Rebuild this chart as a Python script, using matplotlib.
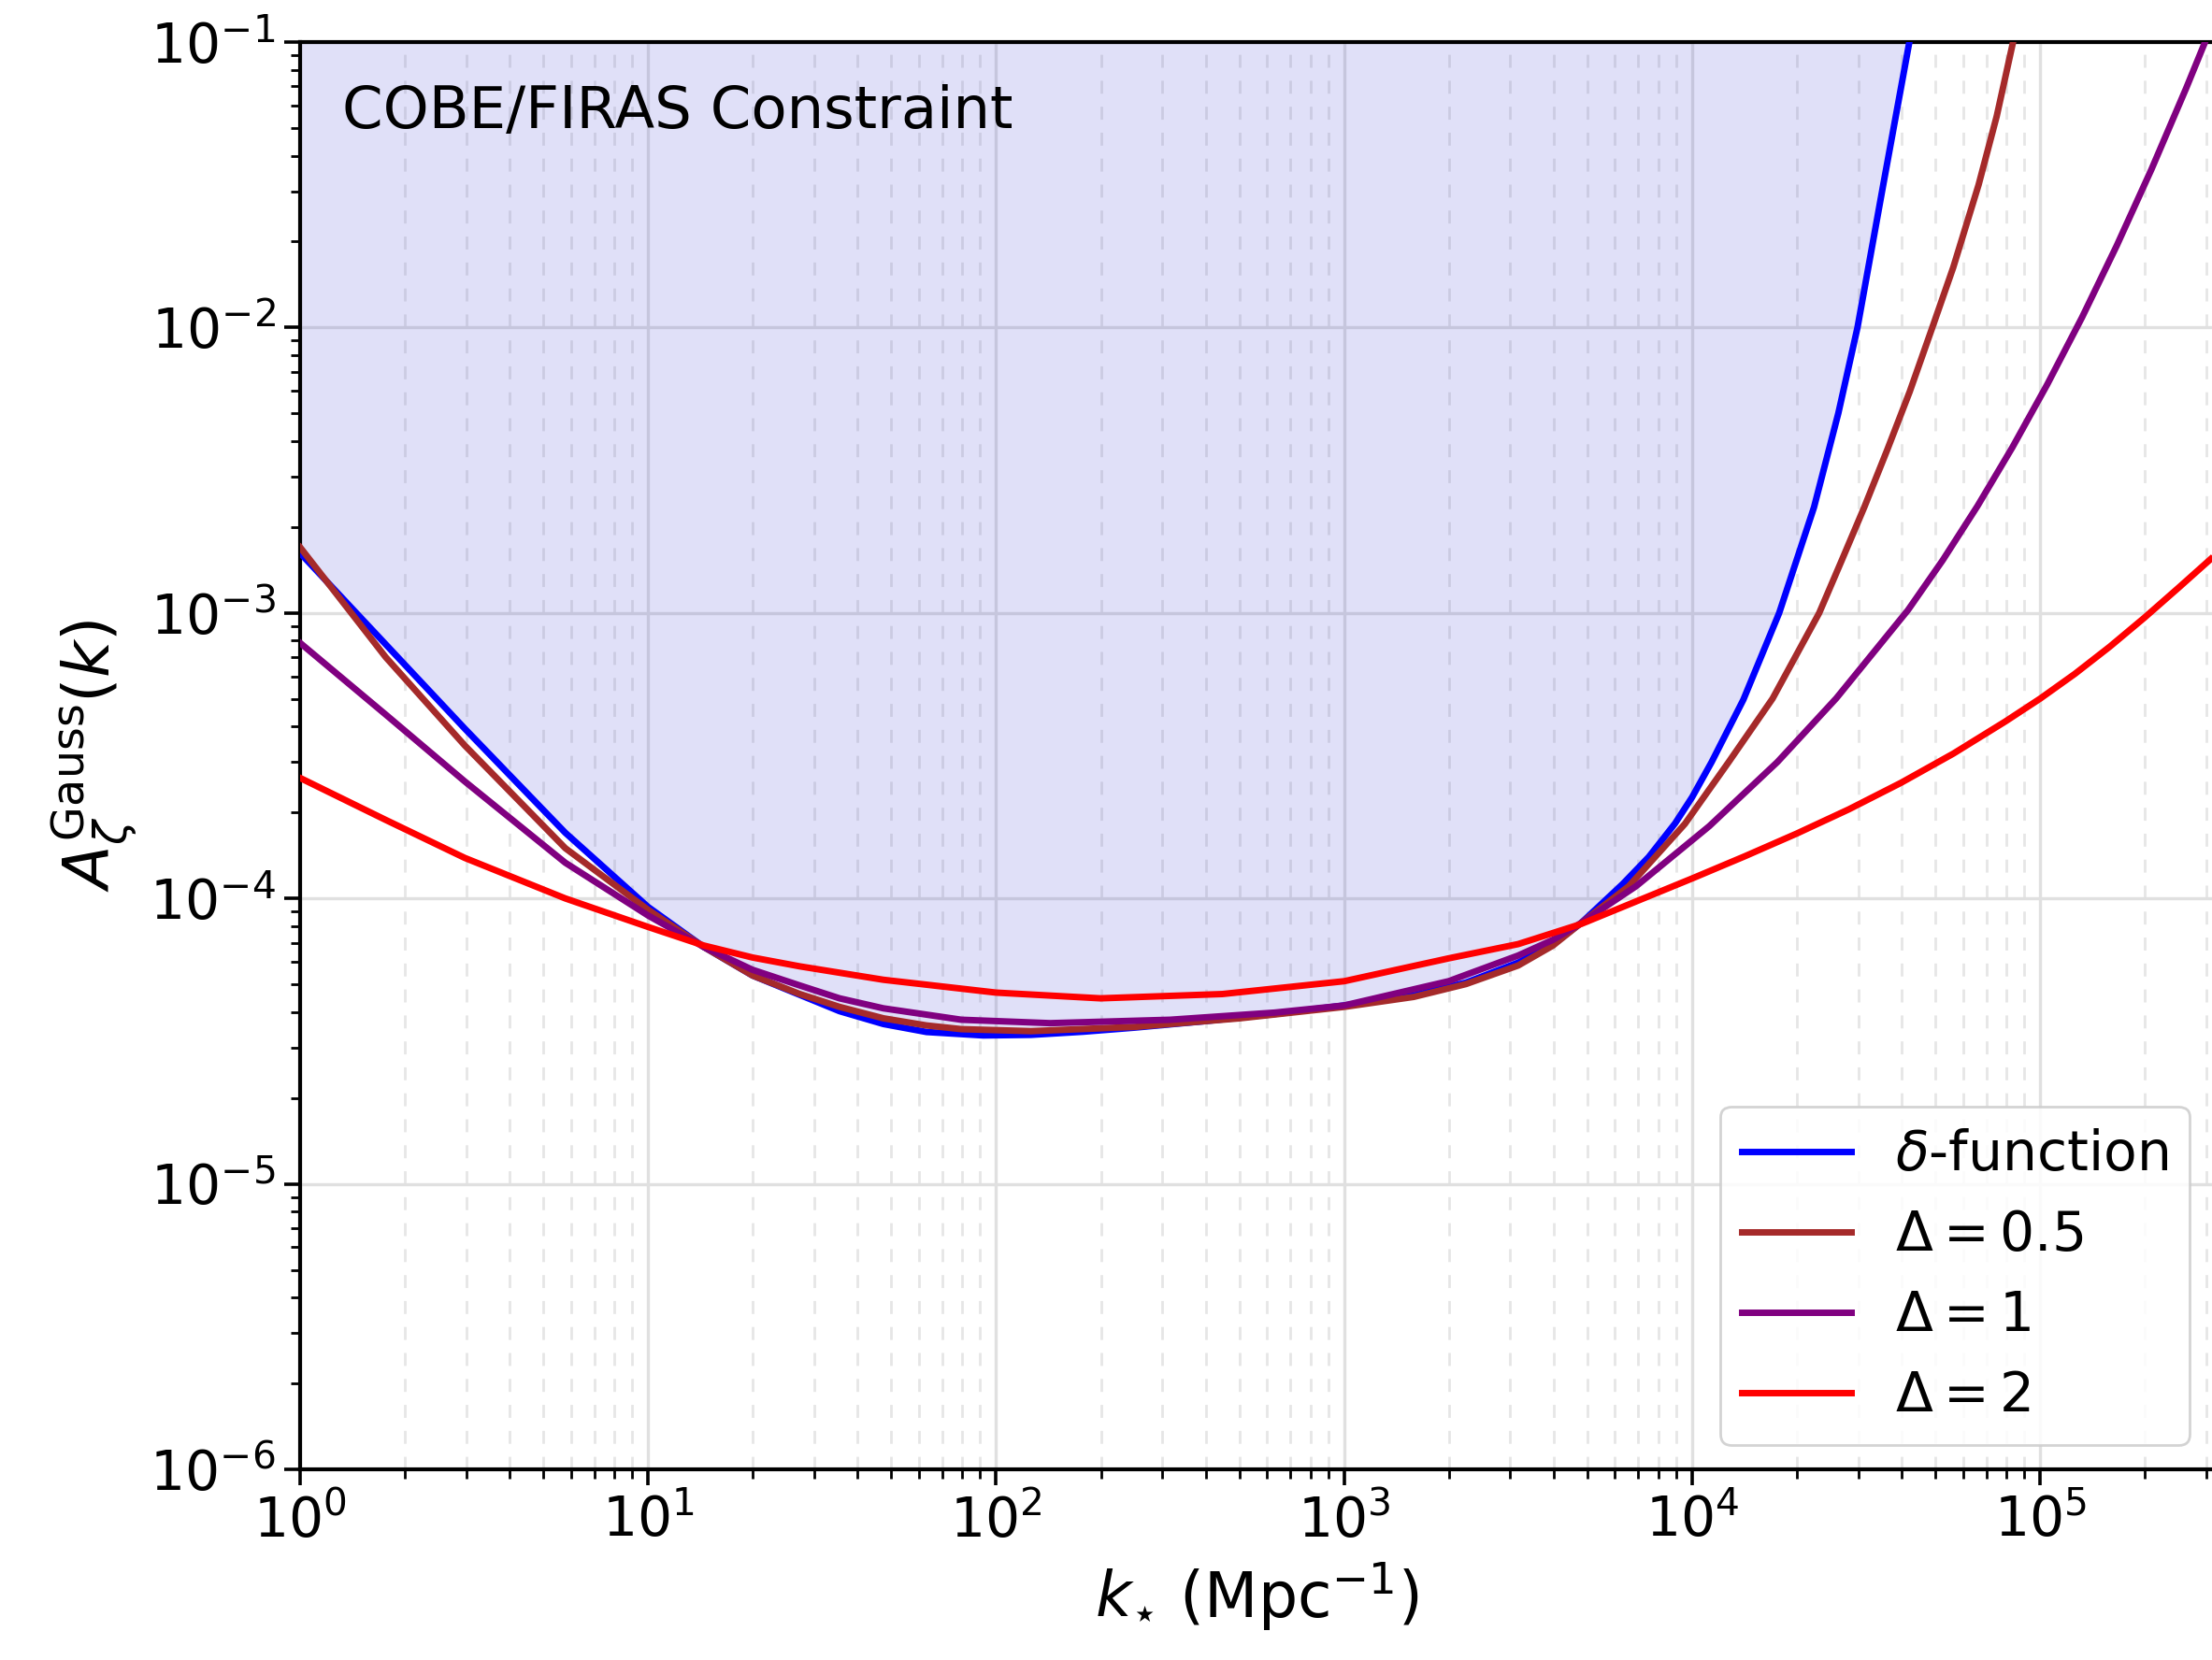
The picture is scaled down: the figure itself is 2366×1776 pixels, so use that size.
import numpy as np
import matplotlib
matplotlib.use("Agg")
import matplotlib.pyplot as plt

# ---- data (log10 k, log10 A) ----
logk_delta = [0.0, 0.246, 0.473, 0.762, 1.0, 1.16, 1.3, 1.436, 1.55, 1.676, 1.8, 1.963, 2.1, 2.25,
              2.395, 2.6, 2.8, 3.0, 3.2, 3.35, 3.5, 3.6, 3.68, 3.80, 3.875, 3.951, 4.0, 4.056, 4.147,
              4.25, 4.35, 4.42, 4.475, 4.549, 4.624]
logA_delta = [-2.79, -3.11, -3.405, -3.77, -4.03, -4.17, -4.27, -4.338, -4.395, -4.44, -4.468, -4.48,
              -4.478, -4.467, -4.453, -4.43, -4.405, -4.375, -4.34, -4.295, -4.225, -4.16, -4.087,
              -3.95, -3.855, -3.737, -3.645, -3.522, -3.304, -3.0, -2.63, -2.30, -2.0, -1.5, -1.0]

logk_d05 = [0.0, 0.246, 0.473, 0.762, 1.0, 1.16, 1.3, 1.436, 1.55, 1.676, 1.8, 1.9, 2.1, 2.4, 2.7,
            3.0, 3.2, 3.35, 3.5, 3.6, 3.68, 3.818, 3.979, 4.105, 4.231, 4.365, 4.43, 4.495, 4.56,
            4.625, 4.69, 4.75, 4.823, 4.875, 4.922]
logA_d05 = [-2.77, -3.155, -3.464, -3.824, -4.04, -4.17, -4.27, -4.335, -4.38, -4.42, -4.445, -4.458,
            -4.465, -4.45, -4.42, -4.38, -4.345, -4.30, -4.235, -4.165, -4.087, -3.957, -3.739,
            -3.522, -3.30, -3.0, -2.815, -2.628, -2.43, -2.225, -2.0, -1.79, -1.5, -1.26, -1.0]

logk_d1 = [0.0, 0.246, 0.473, 0.762, 1.0, 1.16, 1.3, 1.436, 1.55, 1.676, 1.9, 2.155, 2.5, 2.8, 3.0,
           3.3, 3.5, 3.6, 3.68, 3.839, 4.049, 4.245, 4.414, 4.62, 4.72, 4.82, 4.92, 5.02, 5.12, 5.22,
           5.32, 5.42, 5.477]
logA_d1 = [-3.105, -3.356, -3.59, -3.875, -4.06, -4.17, -4.25, -4.305, -4.35, -4.385, -4.425, -4.437,
           -4.425, -4.40, -4.375, -4.29, -4.20, -4.145, -4.087, -3.957, -3.747, -3.522, -3.299, -2.99,
           -2.815, -2.625, -2.42, -2.20, -1.965, -1.713, -1.445, -1.16, -0.99]

logk_d2 = [0.0, 0.246, 0.473, 0.762, 1.0, 1.16, 1.3, 1.436, 1.676, 2.0, 2.3, 2.65, 3.0, 3.3, 3.5,
           3.68, 3.85, 4.0, 4.15, 4.3, 4.45, 4.6, 4.75, 4.9, 5.0, 5.1, 5.2, 5.3, 5.4, 5.49]
logA_d2 = [-3.578, -3.725, -3.858, -4.0, -4.10, -4.165, -4.207, -4.238, -4.285, -4.33, -4.35, -4.335,
           -4.29, -4.21, -4.16, -4.09, -4.005, -3.93, -3.853, -3.773, -3.688, -3.595, -3.493, -3.38,
           -3.30, -3.213, -3.118, -3.016, -2.909, -2.811]

labels = [r'$\delta$-function', r'$\Delta = 0.5$', r'$\Delta = 1$', r'$\Delta = 2$']
colors = ['blue', 'brown', 'purple', 'red']

k_delta = 10.0 ** np.array(logk_delta); A_delta = 10.0 ** np.array(logA_delta)
k_d05 = 10.0 ** np.array(logk_d05); A_d05 = 10.0 ** np.array(logA_d05)
k_d1 = 10.0 ** np.array(logk_d1); A_d1 = 10.0 ** np.array(logA_d1)
k_d2 = 10.0 ** np.array(logk_d2); A_d2 = 10.0 ** np.array(logA_d2)

W, H, DPI = 2366, 1776, 200
fig = plt.figure(figsize=(W / DPI, H / DPI), dpi=DPI)
ax = fig.add_axes([321 / W, (H - 1572) / H, (W - 321) / W + 0.001, (1572 - 45) / H])

ax.set_xscale('log')
ax.set_yscale('log')
ax.set_xlim(1, 10 ** 5.5)
ax.set_ylim(1e-6, 1e-1)

ax.grid(True, which='major', axis='both', color='0.88', lw=1.2, ls='-', zorder=0)
ax.grid(True, which='minor', axis='x', color='0.9', lw=1.0, ls=(0, (5, 5)), zorder=0)
ax.set_axisbelow(True)

ax.fill_between(k_delta, A_delta, 1e-1, color='#2a2ad0', alpha=0.14, lw=0, zorder=1)

for kk, aa, lab, c in zip([k_delta, k_d05, k_d1, k_d2], [A_delta, A_d05, A_d1, A_d2], labels, colors):
    ax.plot(kk, aa, color=c, lw=2.5, label=lab, zorder=3, solid_joinstyle='round')

ax.text(0.022, 0.951, 'COBE/FIRAS Constraint', transform=ax.transAxes,
        ha='left', va='center', fontsize=22.5)

ax.set_xlabel(r'$k_{\star}$ (Mpc$^{-1}$)', fontsize=24)
ax.set_ylabel(r'$A_{\zeta}^{\rm Gauss}(k)$', fontsize=24.5)

ax.tick_params(which='major', labelsize=21, length=6, width=1.3, direction='out')
ax.tick_params(which='minor', length=3.5, width=1.0, direction='out')
ax.spines['right'].set_visible(False)
for s in ['left', 'bottom', 'top']:
    ax.spines[s].set_linewidth(1.5)

leg = ax.legend(loc='lower right', fontsize=21, framealpha=0.85, edgecolor='0.8',
                handlelength=2.0, borderaxespad=0.45)

fig.savefig('out.png', dpi=DPI)
